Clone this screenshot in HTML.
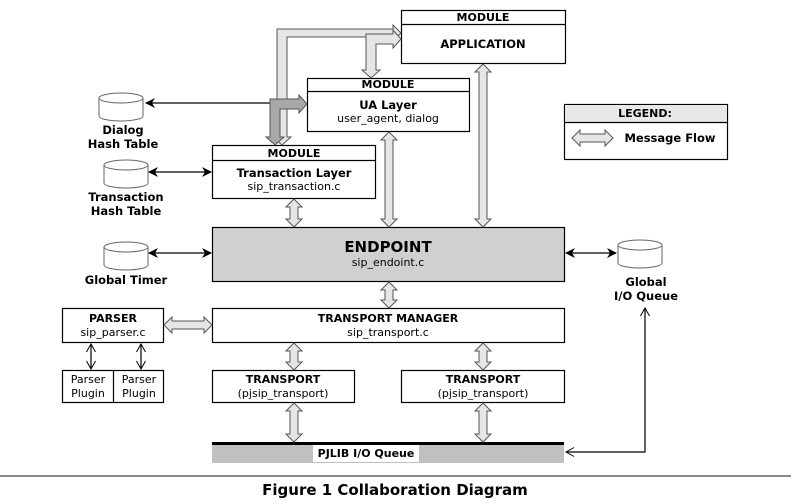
<!DOCTYPE html>
<html><head><meta charset="utf-8"><style>
html,body{margin:0;padding:0;background:#fff;width:791px;height:504px;overflow:hidden}
svg{display:block}
text{font-family:"DejaVu Sans","Liberation Sans",sans-serif;font-size:11px;fill:#000;text-anchor:middle}
.b{font-weight:bold}
.c{font-weight:bold;font-size:11.5px}
</style></head><body>
<svg width="791" height="504" viewBox="0 0 791 504" xmlns="http://www.w3.org/2000/svg">
<defs>
<marker id="ah" markerWidth="10" markerHeight="10" refX="9" refY="5" orient="auto-start-reverse" markerUnits="userSpaceOnUse"><path d="M0,0 L10,5 L0,10 L3,5 Z" fill="#000"/></marker>
<marker id="oh" markerWidth="10" markerHeight="10" refX="9" refY="5" orient="auto-start-reverse" markerUnits="userSpaceOnUse"><path d="M1,0.5 L9,5 L1,9.5" fill="none" stroke="#000" stroke-width="1"/></marker>
</defs>
<g fill="#fff" stroke="#000" stroke-width="1.2">
<rect x="401.5" y="10.5" width="164" height="53"/>
<rect x="307.5" y="78.5" width="162" height="53"/>
<rect x="212.5" y="145.5" width="163" height="53"/>
<rect x="212.5" y="227.5" width="352" height="54" fill="#d0d0d0"/>
<rect x="212.5" y="308.5" width="352" height="34"/>
<rect x="62.5" y="308.5" width="101" height="34"/>
<rect x="62.5" y="370.5" width="101" height="32"/>
<rect x="212.5" y="370.5" width="142" height="32"/>
<rect x="401.5" y="370.5" width="163" height="32"/>
<rect x="564.5" y="104.5" width="163" height="55"/>
</g>
<rect x="565" y="105" width="162" height="17" fill="#e8e8e8"/>
<g stroke="#000" stroke-width="1.2">
<line x1="401" y1="24.5" x2="565" y2="24.5"/>
<line x1="307" y1="91.5" x2="469" y2="91.5"/>
<line x1="212" y1="160.5" x2="375" y2="160.5"/>
<line x1="564" y1="122.5" x2="727" y2="122.5"/>
<line x1="113.5" y1="370" x2="113.5" y2="402"/>
</g>
<rect x="212" y="443" width="352" height="20" fill="#c0c0c0"/>
<rect x="212" y="442" width="352" height="3" fill="#000"/>
<rect x="313" y="445" width="106" height="17" fill="#fff"/>
<text class="b" x="366" y="457">PJLIB I/O Queue</text>
<rect x="0" y="475" width="791" height="2" fill="#888"/>
<text class="b" x="395" y="495" style="font-size:15px">Figure 1 Collaboration Diagram</text>
<g fill="#fff" stroke="#666" stroke-width="1">
<path d="M99,98 v18 a22,5 0 0 0 44,0 v-18"/><ellipse cx="121" cy="98" rx="22" ry="5"/>
<path d="M104,165 v18 a22,5 0 0 0 44,0 v-18"/><ellipse cx="126" cy="165" rx="22" ry="5"/>
<path d="M104,247 v18 a22,5 0 0 0 44,0 v-18"/><ellipse cx="126" cy="247" rx="22" ry="5"/>
<path d="M618,245 v18 a22,5 0 0 0 44,0 v-18"/><ellipse cx="640" cy="245" rx="22" ry="5"/>
</g>
<text class="c" x="123" y="134">Dialog</text><text class="c" x="123" y="148">Hash Table</text>
<text class="c" x="126" y="201">Transaction</text><text class="c" x="126" y="215">Hash Table</text>
<text class="c" x="126" y="284">Global Timer</text>
<text class="c" x="646" y="286">Global</text><text class="c" x="646" y="300">I/O Queue</text>
<polygon points="282,145 273,137 277,137 277,29 393,29 393,25 401,33 393,41 393,37 287,37 287,137 291,137" fill="#e6e6e6" stroke="#555"/>
<line x1="146" y1="103" x2="306" y2="103" stroke="#000" stroke-width="1.2" marker-start="url(#ah)" marker-end="url(#ah)"/>
<polygon points="307,104 299,95 299,99 270,99 270,137 266,137 275,145 284,137 280,137 280,109 299,109 299,113" fill="#a8a8a8" stroke="#555"/>
<polygon points="371,78 362,70 366,70 366,34 393,34 393,30 401,39 393,48 393,44 376,44 376,70 380,70" fill="#e6e6e6" stroke="#555"/>
<g stroke="#000" stroke-width="1.2" fill="none">
<line x1="149" y1="172" x2="211" y2="172" marker-start="url(#ah)" marker-end="url(#ah)"/>
<line x1="149" y1="253" x2="211" y2="253" marker-start="url(#ah)" marker-end="url(#ah)"/>
<line x1="566" y1="253" x2="616" y2="253" marker-start="url(#ah)" marker-end="url(#ah)"/>
<line x1="91" y1="344" x2="91" y2="369" marker-start="url(#oh)" marker-end="url(#oh)"/>
<line x1="141" y1="344" x2="141" y2="369" marker-start="url(#oh)" marker-end="url(#oh)"/>
<polyline points="645,308 645,452 566,452" marker-start="url(#oh)" marker-end="url(#oh)"/>
</g>
<g fill="#e6e6e6" stroke="#555" stroke-width="1">
<polygon points="294,199 302,207 298,207 298,219 302,219 294,227 286,219 290,219 290,207 286,207"/>
<polygon points="389,132 397,140 393,140 393,219 397,219 389,227 381,219 385,219 385,140 381,140"/>
<polygon points="483,64 491,72 487,72 487,219 491,219 483,227 475,219 479,219 479,72 475,72"/>
<polygon points="389,282 397,290 393,290 393,300 397,300 389,308 381,300 385,300 385,290 381,290"/>
<polygon points="294,343 302,351 298,351 298,362 302,362 294,370 286,362 290,362 290,351 286,351"/>
<polygon points="483,343 491,351 487,351 487,362 491,362 483,370 475,362 479,362 479,351 475,351"/>
<polygon points="294,403 302,411 298,411 298,434 302,434 294,442 286,434 290,434 290,411 286,411"/>
<polygon points="483,403 491,411 487,411 487,434 491,434 483,442 475,434 479,434 479,411 475,411"/>
<polygon points="164,325 172,317 172,321 204,321 204,317 212,325 204,333 204,329 172,329 172,333"/>
<polygon points="572,138 580,130 580,134 605,134 605,130 613,138 605,146 605,142 580,142 580,146"/>
</g>
<text class="b" x="483" y="21">MODULE</text>
<text class="b" x="483" y="48" style="font-size:11.5px">APPLICATION</text>
<text class="b" x="388" y="88">MODULE</text>
<text class="b" x="388" y="109" style="font-size:11.5px">UA Layer</text>
<text x="388" y="122">user_agent, dialog</text>
<text class="b" x="294" y="157">MODULE</text>
<text class="b" x="294" y="177" style="font-size:11.5px">Transaction Layer</text>
<text x="294" y="190">sip_transaction.c</text>
<text class="b" x="388" y="252" style="font-size:15px">ENDPOINT</text>
<text x="388" y="266">sip_endoint.c</text>
<text class="b" x="388" y="322">TRANSPORT MANAGER</text>
<text x="388" y="336">sip_transport.c</text>
<text class="b" x="113" y="322">PARSER</text>
<text x="113" y="336">sip_parser.c</text>
<text x="88" y="383">Parser</text><text x="88" y="397">Plugin</text>
<text x="139" y="383">Parser</text><text x="139" y="397">Plugin</text>
<text class="b" x="283" y="383">TRANSPORT</text><text x="283" y="397">(pjsip_transport)</text>
<text class="b" x="483" y="383">TRANSPORT</text><text x="483" y="397">(pjsip_transport)</text>
<text class="b" x="645" y="117">LEGEND:</text>
<text class="b" x="670" y="142" style="font-size:11.5px">Message Flow</text>
</svg>
</body></html>
